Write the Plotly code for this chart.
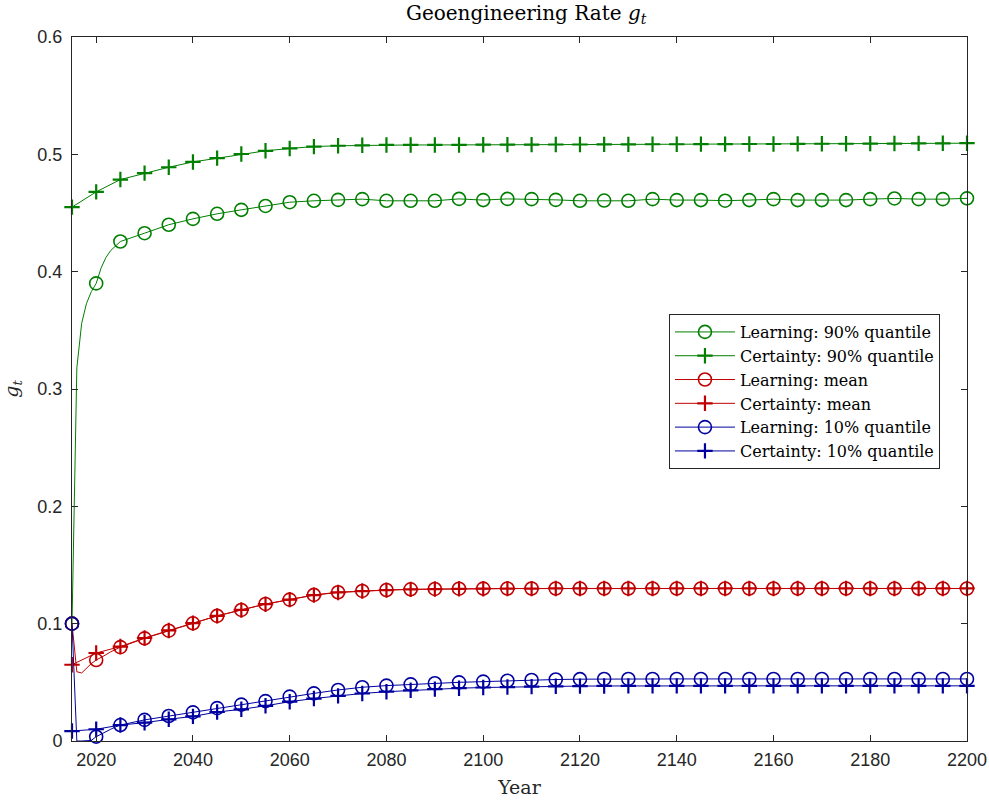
import plotly.graph_objects as go

# ---------------- data ----------------
years5 = list(range(2015, 2201, 5))

learn_90 = [0.100, 0.390, 0.4257, 0.4328, 0.440, 0.445, 0.4493, 0.4527, 0.456, 0.4592,
            0.4604, 0.4612, 0.4618, 0.4604, 0.4604, 0.4604, 0.462, 0.461, 0.462, 0.4618,
            0.4612, 0.4604, 0.4606, 0.4604, 0.4618, 0.461, 0.461, 0.4605, 0.461, 0.4618,
            0.461, 0.461, 0.461, 0.4618, 0.4624, 0.4618, 0.4618, 0.4625]
cert_90 = [0.455, 0.468, 0.4785, 0.484, 0.489, 0.4935, 0.4968, 0.5003, 0.503, 0.505,
           0.5066, 0.5073, 0.5077, 0.508, 0.508, 0.508, 0.508, 0.5082, 0.5083, 0.5083,
           0.5084, 0.5084, 0.5085, 0.5085, 0.5086, 0.5086, 0.5087, 0.5087, 0.5088, 0.5088,
           0.5089, 0.509, 0.509, 0.5091, 0.5092, 0.5093, 0.5094, 0.5095]
learn_mean = [0.100, 0.069, 0.080, 0.0875, 0.094, 0.1003, 0.1066, 0.1117, 0.1168, 0.1205,
              0.1245, 0.1268, 0.1279, 0.1287, 0.1293, 0.1296, 0.1298, 0.1299, 0.13, 0.13,
              0.13, 0.13, 0.13, 0.13, 0.13, 0.13, 0.13, 0.13, 0.13, 0.13,
              0.13, 0.13, 0.13, 0.13, 0.13, 0.13, 0.13, 0.13]
cert_mean = [0.065, 0.075, 0.0805, 0.0878, 0.0942, 0.1005, 0.1066, 0.1117, 0.1166, 0.1205,
             0.1243, 0.1266, 0.1278, 0.1286, 0.1292, 0.1295, 0.1297, 0.1298, 0.1299, 0.1299,
             0.13, 0.13, 0.13, 0.13, 0.13, 0.13, 0.13, 0.13, 0.13, 0.13,
             0.13, 0.13, 0.13, 0.13, 0.13, 0.13, 0.13, 0.13]
learn_10 = [0.100, 0.0037, 0.0136, 0.018, 0.0213, 0.0244, 0.028, 0.031, 0.034, 0.0378,
            0.0406, 0.0435, 0.0458, 0.0472, 0.0483, 0.0492, 0.050, 0.0506, 0.0514, 0.052,
            0.0524, 0.0527, 0.0529, 0.0529, 0.0529, 0.0529, 0.0529, 0.0529, 0.0529, 0.0529,
            0.0529, 0.0529, 0.0529, 0.0529, 0.0529, 0.0529, 0.0529, 0.0529]
cert_10 = [0.0085, 0.010, 0.0136, 0.0156, 0.0185, 0.021, 0.0247, 0.027, 0.030, 0.0335,
           0.0362, 0.0385, 0.0405, 0.042, 0.0432, 0.0442, 0.045, 0.0456, 0.046, 0.0463,
           0.0466, 0.0468, 0.0469, 0.047, 0.047, 0.047, 0.047, 0.047, 0.047, 0.047,
           0.047, 0.047, 0.047, 0.047, 0.047, 0.047, 0.047, 0.047]

# annual values of the learning paths in the first decade (between the markers)
early_years = [2016, 2017, 2018, 2019, 2021, 2022, 2023, 2024]
learn_90_early = [0.318, 0.356, 0.373, 0.383, 0.403, 0.412, 0.418, 0.422]
learn_mean_early = [0.059, 0.058, 0.062, 0.066, 0.071, 0.0735, 0.076, 0.078]
learn_10_early = [0.0, 0.0, 0.0, 0.0005, 0.006, 0.008, 0.010, 0.012]

x_ticks = list(range(2020, 2201, 20))
y_ticks = [0, 0.1, 0.2, 0.3, 0.4, 0.5, 0.6]
y_tick_text = ["0", "0.1", "0.2", "0.3", "0.4", "0.5", "0.6"]

GREEN = "#007f00"
RED = "#c00000"
BLUE = "#0000a0"
SERIF = "DejaVu Serif, serif"
SANS = "Liberation Sans, Arial, sans-serif"


def merge(x5, y5, xe, ye):
    pts = sorted(list(zip(x5, y5)) + list(zip(xe, ye)))
    return [p[0] for p in pts], [p[1] for p in pts]


series = [
    ("Learning: 90% quantile", GREEN, "circle-open", learn_90, learn_90_early),
    ("Certainty: 90% quantile", GREEN, "cross-thin-open", cert_90, None),
    ("Learning: mean", RED, "circle-open", learn_mean, learn_mean_early),
    ("Certainty: mean", RED, "cross-thin-open", cert_mean, None),
    ("Learning: 10% quantile", BLUE, "circle-open", learn_10, learn_10_early),
    ("Certainty: 10% quantile", BLUE, "cross-thin-open", cert_10, None),
]

fig = go.Figure()
for i, (name, col, sym, y5, ye) in enumerate(series):
    if ye is not None:
        lx, ly = merge(years5, y5, early_years, ye)
    else:
        lx, ly = years5, y5
    msize = 13 if sym == "circle-open" else 11
    mlw = 1.6 if sym == "circle-open" else 2.2
    # line through all points
    fig.add_trace(go.Scatter(x=lx, y=ly, mode="lines", line=dict(color=col, width=1),
                             showlegend=False, hoverinfo="skip", legendgroup=f"g{i}"))
    # markers every 5 years
    fig.add_trace(go.Scatter(x=years5, y=y5, mode="markers", cliponaxis=False,
                             marker=dict(symbol=sym, size=msize, color=col,
                                         line=dict(color=col, width=mlw)),
                             showlegend=False, legendgroup=f"g{i}"))
    # legend entry
    fig.add_trace(go.Scatter(x=[None], y=[None], mode="lines+markers", name=name,
                             line=dict(color=col, width=1),
                             marker=dict(symbol=sym, size=msize, color=col,
                                         line=dict(color=col, width=mlw)),
                             legendgroup=f"g{i}"))

axis_common = dict(showline=True, linecolor="#262626", linewidth=1, mirror="ticks",
                   ticks="inside", ticklen=6, tickcolor="#262626", tickwidth=1,
                   showgrid=False, zeroline=False, automargin=False,
                   tickfont=dict(family=SANS, size=18, color="#262626"))

fig.update_layout(
    width=989, height=802, autosize=False,
    paper_bgcolor="white", plot_bgcolor="white",
    margin=dict(l=72, r=22, t=37, b=61, autoexpand=False),
    title=dict(text="Geoengineering Rate <i>g</i><sub><i>t</i></sub>",
               x=0.532, xanchor="center", y=0.993, yanchor="top",
               font=dict(family=SERIF, size=20, color="#000000")),
    xaxis=dict(range=[2015, 2200], tickvals=x_ticks, ticktext=[str(v) for v in x_ticks],
               ticklabelstandoff=2,
               title=dict(text="Year", font=dict(family=SERIF, size=19, color="#262626"), standoff=12),
               **axis_common),
    yaxis=dict(range=[0, 0.6], tickvals=y_ticks, ticktext=y_tick_text,
               ticklabelstandoff=5,
               title=dict(text="<i>g</i><sub><i>t</i></sub>",
                          font=dict(family=SERIF, size=19, color="#262626"), standoff=15),
               **axis_common),
    legend=dict(x=0.667, y=0.6065, xanchor="left", yanchor="top",
                bgcolor="white", bordercolor="#262626", borderwidth=1,
                font=dict(family=SERIF, size=16, color="#000000"),
                traceorder="grouped", tracegroupgap=0, itemwidth=60),
)

fig.write_html("out.html", config={"displayModeBar": False, "responsive": False},
               post_script="document.body.style.margin='0';")
